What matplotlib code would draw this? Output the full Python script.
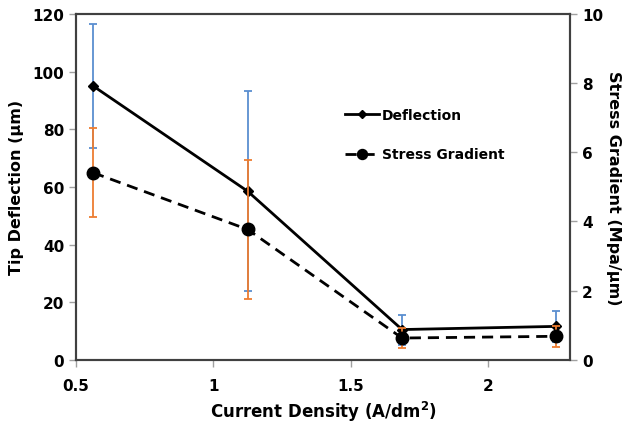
import matplotlib
matplotlib.use('Agg')
import matplotlib.pyplot as plt
import numpy as np

# 数据
current_density = [0.5625, 1.125, 1.6875, 2.25]
deflection = [95.0, 58.5, 10.5, 11.6]
deflection_err = [21.6, 34.7, 5.2, 5.4]
stress_grad = [5.41, 3.77, 0.63, 0.68]
stress_err = [1.29, 2.02, 0.30, 0.31]

plt.rcParams['font.family'] = ['DejaVu Sans']
plt.rcParams['font.weight'] = 'bold'

fig = plt.figure(figsize=(6.28, 4.27), dpi=100)
ax = fig.add_axes([0.121, 0.155, 0.787, 0.81])
ax2 = ax.twinx()

# 误差线
ax.errorbar(current_density, deflection, yerr=deflection_err, fmt='none',
            ecolor='#5B8FD0', elinewidth=1.3, capsize=3, capthick=1.3, zorder=2)
ax2.errorbar(current_density, stress_grad, yerr=stress_err, fmt='none',
             ecolor='#ED7D31', elinewidth=1.3, capsize=3, capthick=1.3, zorder=2)

l1, = ax.plot(current_density, deflection, color='black', lw=2, marker='D',
              ms=5, label='Deflection', zorder=3)
l2, = ax2.plot(current_density, stress_grad, color='black', lw=2, ls='--',
               dashes=(4, 2.5), marker='o', ms=9, label='Stress Gradient', zorder=3)

ax.set_xlim(0.5, 2.3)
ax.set_ylim(0, 120)
ax2.set_ylim(0, 10)
ax.set_xticks([0.5, 1, 1.5, 2])
ax.set_xticklabels(['0.5', '1', '1.5', '2'])
ax.set_yticks(np.arange(0, 121, 20))
ax2.set_yticks(np.arange(0, 11, 2))

for a in (ax, ax2):
    a.tick_params(axis='both', direction='out', length=5, color='#A0A0A0',
                  labelsize=11, width=1)
    for s in a.spines.values():
        s.set_color('#404040')
        s.set_linewidth(1.5)
ax.tick_params(axis='x', pad=8)

ax.set_xlabel('Current Density (A/dm$^\\mathbf{2}$)', fontsize=12, fontweight='bold')
ax.set_ylabel('Tip Deflection (µm)', fontsize=11.5, fontweight='bold', labelpad=6)
ax2.set_ylabel('Stress Gradient (Mpa/µm)', fontsize=11.5, fontweight='bold',
               rotation=270, labelpad=13)

# 图例（无边框）
leg = ax.legend(handles=[l1, l2], loc='upper left', bbox_to_anchor=(0.52, 0.765),
                frameon=False, fontsize=10, handlelength=2.4, handletextpad=0.2,
                labelspacing=1.85, markerscale=0.8)

fig.savefig('out.png', dpi=100)
